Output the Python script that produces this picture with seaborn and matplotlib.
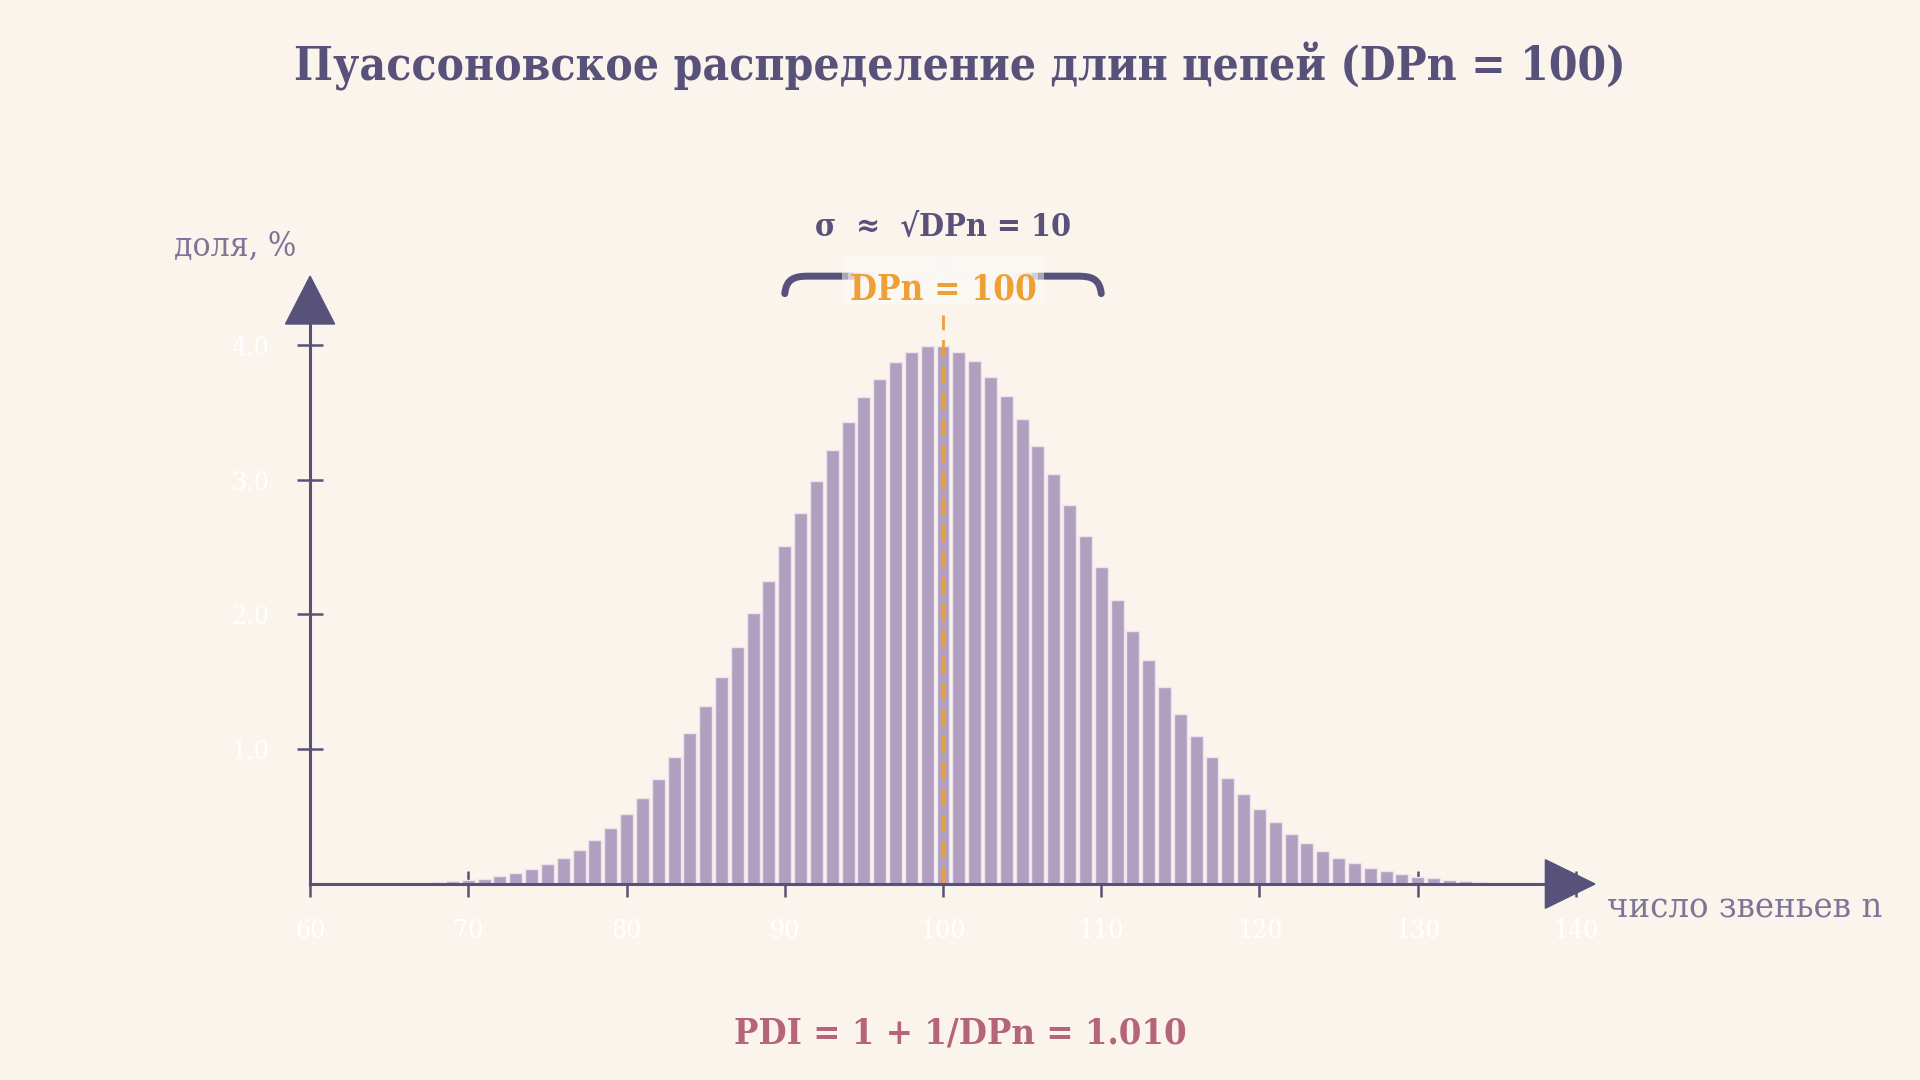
import numpy as np
import matplotlib
matplotlib.use("Agg")
import matplotlib.pyplot as plt
from matplotlib.patches import Polygon, PathPatch, Rectangle
from matplotlib.path import Path
import seaborn as sns

# data: share (%) of chains with n links
n_links = list(range(65, 138))
share = [0.003, 0.005, 0.008, 0.012, 0.02, 0.03, 0.04, 0.06, 0.08, 0.11,
         0.146, 0.193, 0.252, 0.324, 0.413, 0.517, 0.638, 0.779, 0.94, 1.12,
         1.32, 1.536, 1.76, 2.01, 2.25, 2.51, 2.75, 2.99, 3.22, 3.43,
         3.61, 3.75, 3.87, 3.95, 3.99, 3.99, 3.95, 3.88, 3.76, 3.62,
         3.45, 3.25, 3.04, 2.81, 2.58, 2.35, 2.11, 1.88, 1.66, 1.46,
         1.26, 1.10, 0.94, 0.79, 0.67, 0.554, 0.458, 0.373, 0.302, 0.245,
         0.193, 0.153, 0.121, 0.094, 0.072, 0.054, 0.042, 0.03, 0.022, 0.015,
         0.01, 0.008, 0.005]
x_ticks = [60, 70, 80, 90, 100, 110, 120, 130, 140]
y_ticks = [1.0, 2.0, 3.0, 4.0]
DPN = 100
SIGMA = 10

#styles
BG = "#faf4ed"
GLOW = "#fcf9f5"
INK = "#58527a"
SOFT_INK = "#7d7596"
BAR_FILL = "#b09fbf"
BAR_EDGE = "#ede3ec"
ORANGE = "#eda035"
ROSE = "#b5647a"
SERIF = ["DejaVu Serif", "Liberation Serif"]

sns.set_theme(style="white")
plt.rcParams["font.family"] = SERIF
plt.rcParams["font.stretch"] = "condensed"

fig = plt.figure(figsize=(19.2, 10.8), dpi=100, facecolor=BG)
ax = fig.add_axes([0.1615, 0.1815, 0.6593, 0.599])
ax.set_facecolor(BG)

sns.barplot(x=n_links, y=share, native_scale=True, width=0.82,
            color=BAR_FILL, saturation=1, edgecolor=BAR_EDGE, linewidth=1,
            ax=ax, zorder=1)

ax.set_xlim(60, 140)
ax.set_ylim(0, 4.8)

# mean line
ax.vlines(DPN, 0, 4.22, colors=ORANGE, linestyles=(0, (6, 3.5)), linewidth=2, zorder=3)

# axes as arrows
for side in ["top", "right"]:
    ax.spines[side].set_visible(False)
for side in ["left", "bottom"]:
    ax.spines[side].set_color(INK)
    ax.spines[side].set_linewidth(2.2)
    ax.spines[side].set_zorder(4)
ax.spines["left"].set_bounds(0, 4.16)
ax.spines["bottom"].set_bounds(60, 138.5)
ax.add_patch(Polygon([[138.07, 0.18], [138.07, -0.18], [141.2, 0]], closed=True,
                     color=INK, clip_on=False, zorder=5))
ax.add_patch(Polygon([[58.45, 4.155], [61.55, 4.155], [60, 4.51]], closed=True,
                     color=INK, clip_on=False, zorder=5))

ax.set_xticks(x_ticks)
ax.set_xticklabels([str(t) for t in x_ticks])
ax.set_yticks(y_ticks)
ax.set_yticklabels([f"{t:.1f}" for t in y_ticks])
ax.tick_params(axis="both", direction="inout", length=18.7, width=1.8,
               color=INK, labelcolor="#ffffff", labelsize=19)
ax.tick_params(axis="y", pad=20, left=True)
ax.tick_params(axis="x", pad=15, bottom=True)
ax.set_xlabel("")
ax.set_ylabel("")
ax.grid(False)

# brace over +-sigma
x0, x1 = DPN - SIGMA, DPN + SIGMA
verts = [(x0, 4.38), (x0 + 0.1, 4.49), (x0 + 0.6, 4.51), (x0 + 1.5, 4.51),
         (DPN - 1.2, 4.51),
         (DPN - 0.4, 4.51), (DPN - 0.05, 4.55), (DPN, 4.65),
         (DPN + 0.05, 4.55), (DPN + 0.4, 4.51), (DPN + 1.2, 4.51),
         (x1 - 1.5, 4.51),
         (x1 - 0.6, 4.51), (x1 - 0.1, 4.49), (x1, 4.38)]
codes = [Path.MOVETO, Path.CURVE4, Path.CURVE4, Path.CURVE4,
         Path.LINETO,
         Path.CURVE4, Path.CURVE4, Path.CURVE4,
         Path.CURVE4, Path.CURVE4, Path.CURVE4,
         Path.LINETO,
         Path.CURVE4, Path.CURVE4, Path.CURVE4]
ax.add_patch(PathPatch(Path(verts, codes), facecolor="none", edgecolor=INK,
                       linewidth=5, capstyle="round", clip_on=False, zorder=5))

# soft glow behind the mean label, fading the brace middle
for half in [6.4, 6.0, 5.6, 5.2, 4.8, 4.4]:
    ax.add_patch(Rectangle((DPN - half, 4.30), 2 * half, 0.37,
                           facecolor=GLOW, edgecolor="none", alpha=0.5,
                           clip_on=False, zorder=6))
ax.text(DPN, 4.41, "DPn = 100", ha="center", va="center", fontsize=25,
        fontweight="bold", color=ORANGE, zorder=7)
ax.text(DPN, 4.87, "σ  ≈  √DPn = 10", ha="center", va="center", fontsize=23,
        fontweight="bold", color=INK, zorder=6)

fig.text(0.5, 0.938, "Пуассоновское распределение длин цепей (DPn = 100)",
         ha="center", va="center", fontsize=33, fontweight="bold", color=INK)
fig.text(0.1224, 0.772, "доля, %", ha="center", va="center", fontsize=24, color=SOFT_INK)
fig.text(0.837, 0.160, "число звеньев n", ha="left", va="center", fontsize=26, color=SOFT_INK)
fig.text(0.5, 0.0426, "PDI = 1 + 1/DPn = 1.010", ha="center", va="center",
         fontsize=26, fontweight="bold", color=ROSE)

fig.savefig("out.png", dpi=100, facecolor=BG)
